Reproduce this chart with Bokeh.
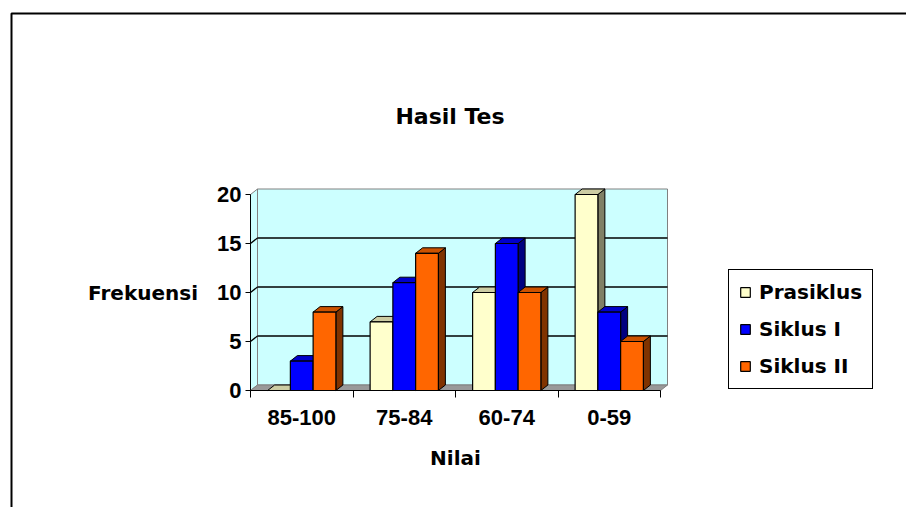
from bokeh.plotting import figure
from bokeh.models import FixedTicker, Legend, LegendItem, BoxAnnotation, Label, Range1d
from bokeh.embed import file_html
from bokeh.resources import INLINE

# ---- data ----
categories = ["85-100", "75-84", "60-74", "0-59"]
series_names = ["Prasiklus", "Siklus I", "Siklus II"]
prasiklus = [0, 7, 10, 20]
siklus_1 = [3, 11, 15, 8]
siklus_2 = [8, 14, 10, 5]
y_ticks = [0, 5, 10, 15, 20]
chart_title = "Hasil Tes"
x_title = "Nilai"
y_title = "Frekuensi"

# ---- styling ----
front_colors = ["#FFFFCC", "#0000FF", "#FF6600"]
top_colors = ["#CCCCA3", "#0000CC", "#CC5200"]
side_colors = ["#808066", "#000080", "#803300"]
wall_color = "#CCFFFF"
floor_color = "#999999"
edge_gray = "#808080"

W, H = 906, 507
ORIGIN_X, ORIGIN_Y = 250, 390   # canvas pixel of the (0, 0) corner
PX_X = 102.5   # pixels per category
PX_Y = 9.8     # pixels per unit
DX = 7 / PX_X  # depth offset (data units)
DY = 5.5 / PX_Y
BAR_W = 0.222
n = len(categories)
ymax = y_ticks[-1]

p = figure(width=W, height=H, title=None,
           x_range=Range1d(-ORIGIN_X / PX_X, (W - ORIGIN_X) / PX_X),
           y_range=Range1d((ORIGIN_Y - H) / PX_Y, ORIGIN_Y / PX_Y),
           output_backend="svg", toolbar_location=None,
           min_border=0, min_border_left=0, min_border_right=0,
           min_border_top=0, min_border_bottom=0)
p.background_fill_color = "white"
p.border_fill_color = "white"
p.outline_line_color = None
p.xgrid.visible = False
p.ygrid.visible = False

# ---- 3D walls ----
p.quad(left=[DX], right=[n + DX], bottom=[DY], top=[ymax + DY],
       fill_color=wall_color, line_color=edge_gray, line_width=1)
p.patch([0, DX, DX, 0], [0, DY, ymax + DY, ymax],
        fill_color=wall_color, line_color=edge_gray, line_width=1)
p.patch([0, DX, n + DX, n], [0, DY, DY, 0],
        fill_color=floor_color, line_color=edge_gray, line_width=1)
grid_vals = y_ticks[1:-1]
p.segment(x0=[DX] * len(grid_vals), y0=[v + DY for v in grid_vals],
          x1=[n + DX] * len(grid_vals), y1=[v + DY for v in grid_vals],
          line_color="black", line_width=1.3)
p.segment(x0=[0] * len(grid_vals), y0=grid_vals,
          x1=[DX] * len(grid_vals), y1=[v + DY for v in grid_vals],
          line_color="black", line_width=1.3)

# ---- 3D bars ----
series = [prasiklus, siklus_1, siklus_2]
front_renderers = []
for s, vals in enumerate(series):
    centers = [i + 0.5 + (s - 1) * BAR_W for i in range(n)]
    x0 = [c - BAR_W / 2 for c in centers]
    x1 = [c + BAR_W / 2 for c in centers]
    side_xs = [[b, b + DX, b + DX, b] for b in x1]
    side_ys = [[0, DY, v + DY, v] for v in vals]
    top_xs = [[a, a + DX, b + DX, b] for a, b in zip(x0, x1)]
    top_ys = [[v, v + DY, v + DY, v] for v in vals]
    p.patches(side_xs, side_ys, fill_color=side_colors[s], line_color="black", line_width=1)
    p.patches(top_xs, top_ys, fill_color=top_colors[s], line_color="black", line_width=1)
    r = p.vbar(x=centers, width=BAR_W, bottom=0, top=vals,
               fill_color=front_colors[s], line_color="black", line_width=1.2)
    front_renderers.append(r)

# ---- axes (fixed at the data origin) ----
yax = p.yaxis[0]
yax.fixed_location = 0
yax.ticker = FixedTicker(ticks=y_ticks)
yax.bounds = (0, ymax)
yax.axis_line_color = "black"
yax.major_tick_out = 5
yax.major_tick_in = 0
yax.minor_tick_out = 0
yax.minor_tick_in = 0
yax.major_label_text_font = "Liberation Sans"
yax.major_label_text_font_style = "bold"
yax.major_label_text_font_size = "22px"
yax.major_label_text_color = "black"
yax.major_label_standoff = 4
yax.axis_label = y_title
yax.axis_label_orientation = "horizontal"
yax.axis_label_text_font = "DejaVu Sans"
yax.axis_label_text_font_style = "bold"
yax.axis_label_text_font_size = "20px"
yax.axis_label_text_color = "black"
yax.axis_label_standoff = 16

xax = p.xaxis[0]
xax.fixed_location = 0
xax.ticker = FixedTicker(ticks=[i + 0.5 for i in range(n)],
                         minor_ticks=list(range(n + 1)))
xax.major_label_overrides = {i + 0.5: c for i, c in enumerate(categories)}
xax.bounds = (0, n)
xax.axis_line_color = "black"
xax.major_tick_out = 0
xax.major_tick_in = 0
xax.minor_tick_out = 7
xax.minor_tick_in = 0
xax.minor_tick_line_color = "black"
xax.major_label_text_font = "Liberation Sans"
xax.major_label_text_font_style = "bold"
xax.major_label_text_font_size = "22px"
xax.major_label_text_color = "black"
xax.major_label_standoff = 12
xax.axis_label = x_title
xax.axis_label_text_font = "DejaVu Sans"
xax.axis_label_text_font_style = "bold"
xax.axis_label_text_font_size = "20px"
xax.axis_label_text_color = "black"
xax.axis_label_standoff = 18

# ---- title ----
p.add_layout(Label(x=449.5, y=H - 128, x_units="screen", y_units="screen",
                   text=chart_title, text_align="center",
                   text_baseline="bottom", text_font="DejaVu Sans",
                   text_font_style="bold", text_font_size="22px",
                   text_color="black"))

# ---- legend ----
legend = Legend(items=[LegendItem(label=nm, renderers=[r])
                       for nm, r in zip(series_names, front_renderers)],
                location=(728, H - 389), margin=0, padding=10, spacing=13,
                label_height=20, glyph_width=12, glyph_height=12,
                label_standoff=8, label_text_font="DejaVu Sans",
                label_text_font_style="bold", label_text_font_size="20px",
                label_text_baseline="middle", label_text_color="black",
                border_line_color="black", border_line_width=1.3,
                border_line_alpha=1,
                background_fill_color="white", background_fill_alpha=1)
p.add_layout(legend, "center")

# ---- outer frame border ----
border = BoxAnnotation(left=11, right=W + 20, top=H - 13, bottom=-20,
                       left_units="screen", right_units="screen",
                       top_units="screen", bottom_units="screen",
                       fill_alpha=0, line_color="black", line_alpha=1,
                       line_width=2)
p.add_layout(border)

open("out.html", "w").write(file_html(p, INLINE))
